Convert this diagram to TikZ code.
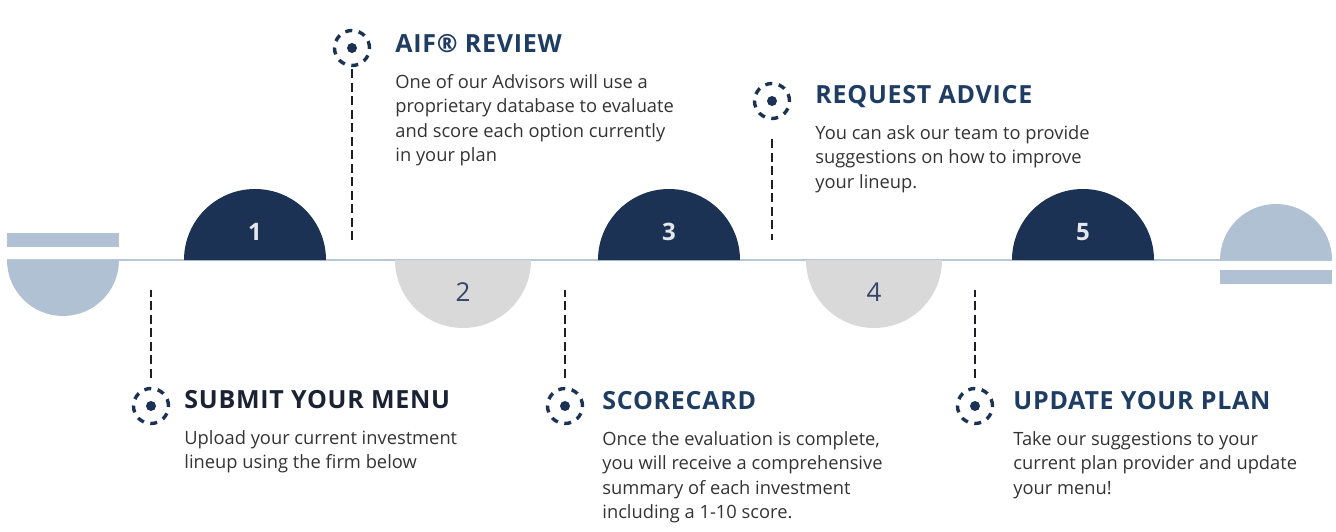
\documentclass[tikz,border=0pt]{standalone}
\usepackage{fontspec}
\setmainfont{Open Sans}
\usetikzlibrary{positioning}

\definecolor{navy}{HTML}{1B3254}
\definecolor{softgrey}{HTML}{D9D9D9}
\definecolor{steel}{HTML}{AFC1D2}
\definecolor{railblue}{HTML}{B7C8D8}
\definecolor{headblue}{HTML}{1F3D63}
\definecolor{headdark}{HTML}{1A2233}
\definecolor{bodygrey}{HTML}{333333}
\definecolor{numwhite}{HTML}{E4E8EE}
\definecolor{numblue}{HTML}{34456A}
\definecolor{leadgrey}{HTML}{1C1F2A}

\tikzset{
  numtop/.style={font=\fontsize{24}{24}\selectfont\bfseries, text=numwhite, inner sep=0pt},
  numlow/.style={font=\fontsize{26}{26}\selectfont, text=numblue, inner sep=0pt},
  marker/.style={circle, draw=navy, line width=3.4pt, dash pattern=on 7pt off 6.6pt,
    minimum size=35pt, inner sep=0pt},
  headline/.style={font=\fontsize{25}{25}\selectfont\addfontfeature{LetterSpace=3}\bfseries,
    text=headblue, inner sep=0pt, anchor=west},
  blurb/.style={font=\fontsize{18.3}{24.5}\selectfont, text=bodygrey, align=left, inner sep=0pt},
  leader/.style={draw=leadgrey, line width=2.8pt, dash pattern=on 9pt off 4.5pt}
}

\begin{document}
\begin{tikzpicture}[x=1pt, y=-1pt]
\useasboundingbox (0,0) rectangle (1336,532);

% rail
\draw[railblue, line width=2.5pt] (7,260) -- (1332,260);

% end caps
\fill[steel] (7,233) rectangle (119,247);
\fill[steel] (7,260) arc[start angle=180, end angle=0, radius=56] -- cycle;
\fill[steel] (1220,260) arc[start angle=180, end angle=360, radius=56] -- cycle;
\fill[steel] (1220,270) rectangle (1332,284);

% half discs
\fill[navy] (184,260) arc[start angle=180, end angle=360, radius=71] -- cycle;
\fill[softgrey] (395,260) arc[start angle=180, end angle=0, radius=68] -- cycle;
\fill[navy] (598,260) arc[start angle=180, end angle=360, radius=71] -- cycle;
\fill[softgrey] (806,260) arc[start angle=180, end angle=0, radius=68] -- cycle;
\fill[navy] (1012,260) arc[start angle=180, end angle=360, radius=71] -- cycle;

\node[numtop] (n1) at (255,232) {1};
\node[numlow] (n2) at (463,292) {2};
\node[numtop] (n3) at (669,232) {3};
\node[numlow] (n4) at (874,292) {4};
\node[numtop] (n5) at (1083,232) {5};

% markers
\node[marker] (m1) at (151,406) {};
\node[marker] (m2) at (352,48) {};
\node[marker] (m3) at (565,406) {};
\node[marker] (m4) at (772,101) {};
\node[marker] (m5) at (975,406) {};
\foreach \m in {m1,m2,m3,m4,m5}
  \fill[navy] (\m) circle[radius=5];

\coordinate (t1) at (151,290);
\coordinate (t2) at (352,240);
\coordinate (t3) at (565,290);
\coordinate (t4) at (772,240);
\coordinate (t5) at (975,290);

\draw[leader, shorten <=9pt] (m1) -- (t1);
\draw[leader, shorten <=2pt] (m2) -- (t2);
\draw[leader, shorten <=9pt] (m3) -- (t3);
\draw[leader, shorten <=19pt] (m4) -- (t4);
\draw[leader, shorten <=9pt] (m5) -- (t5);

% titles
\node[headline, text=headdark, right=14pt of m1, yshift=6pt] (h1) {SUBMIT YOUR MENU};
\node[headline, right=24pt of m2, yshift=4pt] (h2) {AIF® REVIEW};
\node[headline, right=18pt of m3, yshift=5pt] (h3) {SCORECARD};
\node[headline, right=24pt of m4, yshift=4pt] (h4) {REQUEST ADVICE};
\node[headline, right=19pt of m5, yshift=5pt] (h5) {UPDATE YOUR PLAN};

% texts
\node[blurb, below=21pt of h1.base west, anchor=north west] (b1) {Upload your current investment\\lineup using the firm below};
\node[blurb, below=21pt of h2.base west, anchor=north west] (b2) {One of our Advisors will use a\\proprietary database to evaluate\\and score each option currently\\in your plan};
\node[blurb, below=21pt of h3.base west, anchor=north west] (b3) {Once the evaluation is complete,\\you will receive a comprehensive\\summary of each investment\\including a 1-10 score.};
\node[blurb, below=21pt of h4.base west, anchor=north west] (b4) {You can ask our team to provide\\suggestions on how to improve\\your lineup.};
\node[blurb, below=21pt of h5.base west, anchor=north west] (b5) {Take our suggestions to your\\current plan provider and update\\your menu!};
\end{tikzpicture}
\end{document}
